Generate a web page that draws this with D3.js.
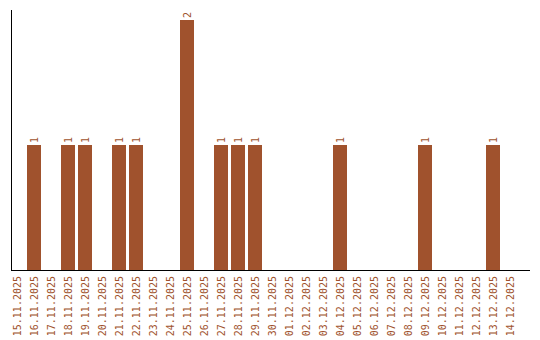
<!DOCTYPE html>
<html><head><meta charset="utf-8">
<script src="https://cdn.jsdelivr.net/npm/d3@7"></script>
<style>body{margin:0;background:#fff}svg{display:block}</style>
</head><body>
<svg id="c" width="540" height="340"></svg>
<script>
const dates = ["15.11.2025","16.11.2025","17.11.2025","18.11.2025","19.11.2025","20.11.2025","21.11.2025","22.11.2025","23.11.2025","24.11.2025","25.11.2025","26.11.2025","27.11.2025","28.11.2025","29.11.2025","30.11.2025","01.12.2025","02.12.2025","03.12.2025","04.12.2025","05.12.2025","06.12.2025","07.12.2025","08.12.2025","09.12.2025","10.12.2025","11.12.2025","12.12.2025","13.12.2025","14.12.2025"];
const counts = [0,1,0,1,1,0,1,1,0,0,2,0,1,1,1,0,0,0,0,1,0,0,0,0,1,0,0,0,1,0];

const color = "#a0522d";
const svg = d3.select("#c");
const x = d3.scaleBand().domain(dates).range([8.5, 518.5]).paddingInner(3/17).paddingOuter(1.5/17);
const y = d3.scaleLinear().domain([0, 2]).range([270, 20]);
const font = "'DejaVu Sans Mono', monospace";

const data = dates.map((d, i) => ({d, v: counts[i]}));

svg.selectAll("rect.bar").data(data.filter(e => e.v > 0)).join("rect")
  .attr("class", "bar")
  .attr("x", e => x(e.d)).attr("width", x.bandwidth())
  .attr("y", e => y(e.v)).attr("height", e => y(0) - y(e.v))
  .attr("fill", color);

svg.selectAll("text.val").data(data.filter(e => e.v > 0)).join("text")
  .attr("class", "val")
  .attr("transform", e => `translate(${x(e.d) + x.bandwidth()/2 + 3.5},${y(e.v) - 2}) rotate(-90)`)
  .attr("font-family", font).attr("font-size", 10).attr("fill", color)
  .text(e => e.v);

// axes
svg.append("line").attr("x1", 11.5).attr("x2", 11.5).attr("y1", 10).attr("y2", 270.5)
  .attr("stroke", "#000").attr("stroke-width", 1);
svg.append("line").attr("x1", 11).attr("x2", 530).attr("y1", 270.5).attr("y2", 270.5)
  .attr("stroke", "#000").attr("stroke-width", 1);

svg.selectAll("text.xl").data(dates).join("text")
  .attr("class", "xl")
  .attr("transform", d => `translate(${x(d) + x.bandwidth()/2 + 3.5},276) rotate(-90)`)
  .attr("text-anchor", "end")
  .attr("font-family", font).attr("font-size", 10).attr("fill", color)
  .text(d => d);
</script>
</body></html>
